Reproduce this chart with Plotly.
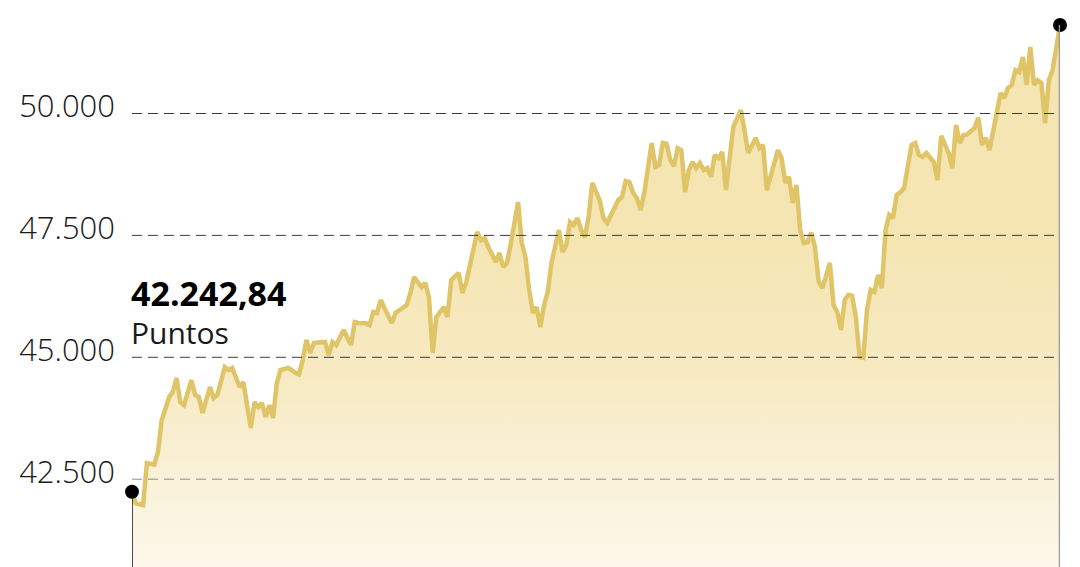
import plotly.graph_objects as go

# sesiones (índice de día bursátil) y cierre del índice
sesion = [
    0, 1, 3, 4, 6, 7, 8, 10, 11, 12, 13, 14, 16, 17, 18, 19, 21, 22, 23, 25,
    26, 27, 29, 30, 32, 33, 34, 35, 36, 37, 38, 39, 40, 42, 43, 44, 45, 46, 47, 48,
    49, 52, 53, 54, 55, 57, 59, 60, 61, 63, 64, 65, 66, 67, 68, 70, 71, 73, 74, 75,
    76, 78, 79, 80, 81, 82, 84, 85, 86, 88, 89, 90, 92, 93, 94, 95, 96, 98, 99, 100,
    101, 102, 104, 105, 106, 107, 108, 109, 110, 111, 112, 113, 115, 116, 117, 118, 119, 120, 121, 122,
    123, 124, 126, 127, 128, 131, 132, 133, 134, 135, 136, 137, 138, 140, 141, 142, 143, 144, 145, 146,
    147, 148, 149, 150, 151, 152, 153, 154, 155, 156, 157, 158, 159, 160, 162, 164, 165, 166, 168, 169,
    170, 171, 174, 175, 176, 177, 178, 179, 180, 181, 182, 183, 184, 185, 186, 188, 189, 190, 191, 192,
    193, 194, 195, 196, 197, 198, 199, 200, 201, 202, 203, 204, 205, 206, 207, 208, 210, 211, 212, 213,
    214, 215, 216, 217, 218, 220, 221, 222, 223, 224, 225, 227, 228, 229, 230, 231, 233, 234, 235, 236,
    237, 238, 239, 240, 241, 242, 243, 244, 245, 246, 247, 248, 250,
]
puntos = [
    42242.84, 42010, 41970, 42830, 42800, 43060, 43710, 44185, 44290, 44575, 44080, 44020, 44530, 44230, 44185, 43860, 44390, 44165, 44230, 44800,
    44740, 44780, 44390, 44490, 43550, 44080, 43980, 44060, 43775, 44020, 43755, 44470, 44740, 44780, 44740, 44680, 44650, 44945, 45355, 45090,
    45295, 45315, 45045, 45315, 45250, 45560, 45250, 45725, 45705, 45700, 45660, 45930, 45910, 46175, 46010, 45705, 45910, 46010, 46070, 46320,
    46645, 46440, 46525, 46235, 45090, 45825, 46030, 45825, 46585, 46730, 46320, 46525, 47200, 47570, 47405, 47445, 47260, 46955, 47140, 46850,
    46935, 47305, 48185, 47345, 47055, 46380, 45910, 46030, 45620, 46070, 46340, 46935, 47610, 47160, 47305, 47775, 47715, 47855, 47610, 47465,
    47875, 48575, 48225, 47855, 47755, 48225, 48285, 48615, 48595, 48370, 48265, 48020, 48370, 49395, 48905, 48945, 49395, 49380, 49045, 48925,
    49290, 49250, 48390, 48840, 49005, 48880, 48985, 48840, 48880, 48700, 49150, 49085, 49210, 48430, 49725, 50070, 49660, 49190, 49500, 49290,
    49355, 48430, 49250, 49085, 48575, 48700, 48165, 48535, 47610, 47345, 47365, 47560, 47260, 46545, 46420, 46935, 46070, 45930, 45560, 46175,
    46280, 46260, 45825, 45005, 44990, 45970, 46380, 46340, 46690, 46420, 47610, 47920, 47855, 48330, 48390, 48470, 49355, 49395, 49150, 49110,
    49190, 49085, 49005, 48635, 49540, 49190, 48880, 49765, 49395, 49560, 49570, 49705, 49910, 49355, 49500, 49250, 50070, 50420, 50320, 50525,
    50585, 50890, 50850, 51160, 50585, 51365, 50585, 50685, 50625, 49805, 50685, 50890, 51815,
]

ticks = [42500, 45000, 47500, 50000]
# la página deja 8px de margen al cuerpo, el rango compensa ese desplazamiento
rango_y = [40535, 52164]

ORO = "#e0c468"
TEXTO = "#1a1a1a"

fig = go.Figure()

# base invisible para que el relleno degradado arranque en el fondo del gráfico
fig.add_trace(go.Scatter(
    x=sesion,
    y=[rango_y[0]] * len(sesion),
    mode="lines",
    line=dict(width=0),
    hoverinfo="skip",
    showlegend=False
))

fig.add_trace(go.Scatter(
    x=sesion,
    y=puntos,
    mode="lines",
    line=dict(color=ORO, width=4.5),
    fill="tonexty",
    fillgradient=dict(
        type="vertical",
        colorscale=[[0, "#fcf8ec"], [0.6, "#f7eac2"], [1, "#f5e5b2"]],
        start=rango_y[0],
        stop=47500
    ),
    showlegend=False
))

# lineas de guía discontinuas por encima del relleno
for t in ticks:
    fig.add_shape(
        type="line", xref="x", yref="y",
        x0=sesion[0], x1=sesion[-1], y0=t, y1=t,
        line=dict(color="#8a8a8a" if t == ticks[0] else "#3a3a3a", width=1, dash="10px,6px"),
        layer="above"
    )

# líneas verticales al inicio y al final
fig.add_shape(
    type="line", xref="x", yref="y",
    x0=sesion[0], x1=sesion[0], y0=rango_y[0], y1=puntos[0],
    line=dict(color="#111111", width=1.5), layer="above"
)
fig.add_shape(
    type="line", xref="x", yref="y",
    x0=sesion[-1], x1=sesion[-1], y0=rango_y[0], y1=puntos[-1],
    line=dict(color="#9a9a9a", width=2.5), layer="above"
)

fig.add_trace(go.Scatter(
    x=[sesion[0], sesion[-1]],
    y=[puntos[0], puntos[-1]],
    mode="markers",
    marker=dict(color="black", size=14),
    cliponaxis=False,
    showlegend=False
))

inicio = f"{puntos[0]:,.2f}".replace(",", "X").replace(".", ",").replace("X", ".")

fig.add_annotation(
    x=sesion[0], y=46318, xref="x", yref="y",
    text=f"<b>{inicio}</b>", showarrow=False,
    xanchor="left", yanchor="middle", xshift=-3,
    font=dict(family="Open Sans", size=34, color="black")
)
fig.add_annotation(
    x=sesion[0], y=45500, xref="x", yref="y",
    text="Puntos", showarrow=False,
    xanchor="left", yanchor="middle", xshift=-3,
    font=dict(family="Open Sans", size=30, color=TEXTO)
)

fig.update_layout(
    width=1080,
    height=567,
    margin=dict(l=124, r=28, t=0, b=0),
    plot_bgcolor="white",
    paper_bgcolor="white",
    separators=",.",
    showlegend=False,
    xaxis=dict(visible=False, range=[sesion[0], sesion[-1]]),
    yaxis=dict(
        range=rango_y,
        tickvals=ticks,
        tickformat=",d",
        showgrid=False,
        zeroline=False,
        showline=False,
        ticks="",
        ticklabelstandoff=16,
        ticklabelshift=-7,
        tickfont=dict(family="Open Sans", size=31, color=TEXTO, weight=300)
    )
)

fig.write_html("out.html")
